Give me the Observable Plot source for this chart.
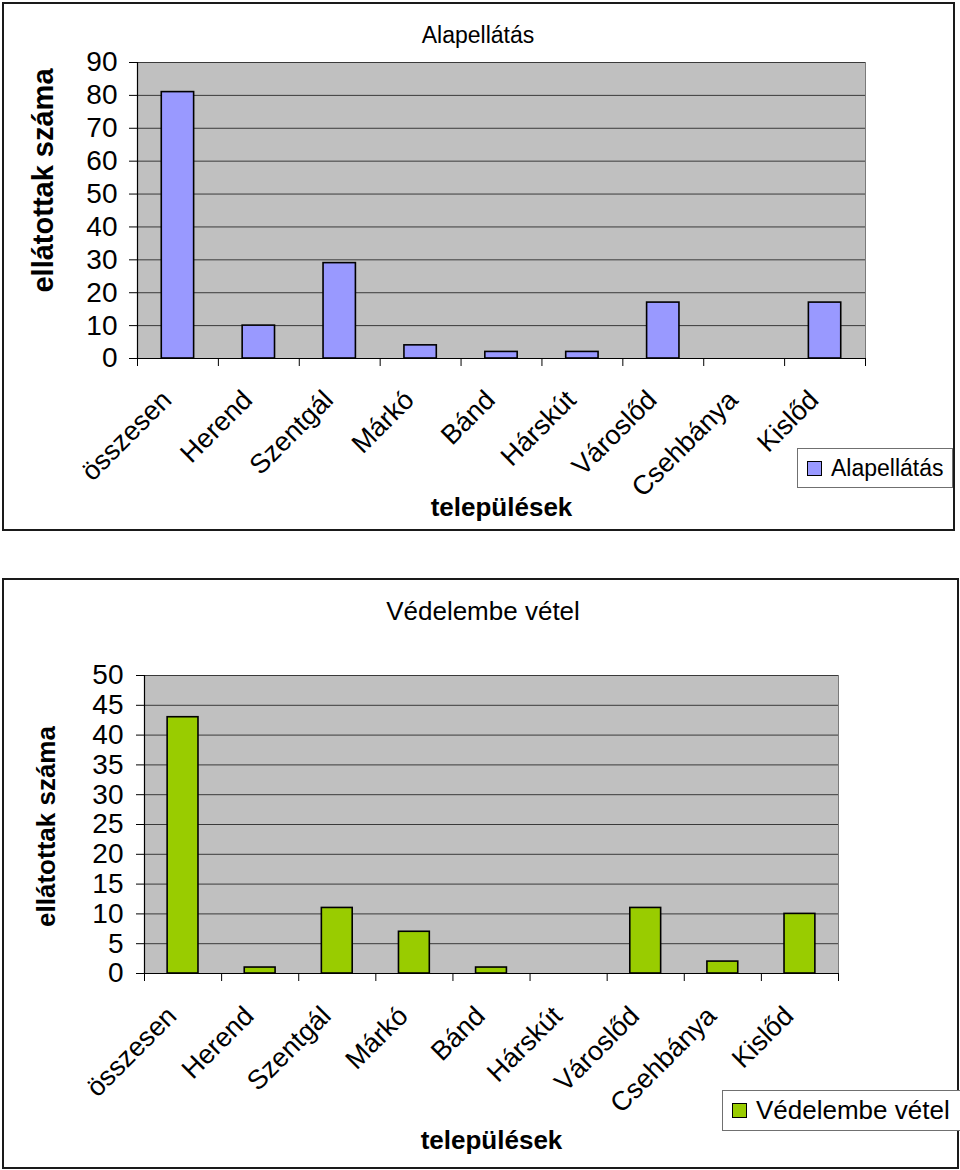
<!DOCTYPE html>
<html>
<head>
<meta charset="utf-8">
<script src="https://cdn.jsdelivr.net/npm/d3@7"></script>
<script src="https://cdn.jsdelivr.net/npm/@observablehq/plot@0.6"></script>
<style>
  body { margin: 0; background: #fff; font-family: "Liberation Sans", Arial, sans-serif; }
  #page { position: relative; width: 960px; height: 1170px; overflow: hidden; }
  .box { position: absolute; border: 2px solid #1a1a1a; box-sizing: border-box; }
  .title { position: absolute; transform: translate(-50%, -50%); white-space: nowrap; color: #000; }
  .legend { position: absolute; border: 1px solid #707070; box-sizing: border-box; background: #fff; display: flex; align-items: center; white-space: nowrap; }
  .swatch { width: 13px; height: 13px; border: 1.5px solid #000; margin-right: 9px; flex: none; }
</style>
</head>
<body>
<div id="page"></div>
<script>
// ---- data ----
const categories = ["összesen", "Herend", "Szentgál", "Márkó", "Bánd", "Hárskút", "Városlőd", "Csehbánya", "Kislőd"];
const alapellatas = [81, 10, 29, 4, 2, 2, 17, 0, 17];
const vedelembeVetel = [43, 1, 11, 7, 1, 0, 11, 2, 10];
const ticksTop = [0, 10, 20, 30, 40, 50, 60, 70, 80, 90];
const ticksBottom = [0, 5, 10, 15, 20, 25, 30, 35, 40, 45, 50];
const titleTop = "Alapellátás";
const titleBottom = "Védelembe vétel";
const yLabel = "ellátottak száma";
const xLabel = "települések";

const FONT = '"Liberation Sans", Arial, sans-serif';
const page = document.getElementById("page");

function chart(cfg) {
  const data = categories.map((c, i) => ({cat: c, v: cfg.values[i]}));
  const plotW = cfg.width - cfg.marginLeft - cfg.marginRight;
  const plotH = cfg.height - cfg.marginTop - cfg.marginBottom;
  const step = plotW / categories.length;
  const last = categories[categories.length - 1];
  const svg = Plot.plot({
    width: cfg.width,
    height: cfg.height,
    marginLeft: cfg.marginLeft,
    marginRight: cfg.marginRight,
    marginTop: cfg.marginTop,
    marginBottom: cfg.marginBottom,
    style: {fontFamily: FONT, background: "transparent", overflow: "visible"},
    x: {domain: categories, paddingInner: 0.6, paddingOuter: 0.3, round: false, axis: null},
    y: {domain: [0, cfg.max], axis: null},
    marks: [
      Plot.frame({fill: "#c0c0c0", stroke: "#7a7a7a"}),
      Plot.gridY(cfg.ticks, {stroke: "#3a3a3a", strokeOpacity: 1, strokeWidth: 1}),
      Plot.barY(data.filter(d => d.v > 0), {x: "cat", y: "v", fill: cfg.color, stroke: "#000", strokeWidth: 1.6}),
      Plot.ruleY([0], {stroke: "#000", strokeWidth: 1.2}),
      // left value axis line
      Plot.ruleX([categories[0]], {x: d => d, dx: -step / 2, stroke: "#000", strokeWidth: 1.2}),
      Plot.axisY({ticks: cfg.ticks, tickSize: 8, tickPadding: cfg.tickPadding, fontSize: cfg.tickFont, label: null, stroke: "#000", color: "#000"}),
      // category boundary ticks
      Plot.ruleX(categories, {x: d => d, dx: -step / 2, insetTop: plotH, insetBottom: -8, stroke: "#000"}),
      Plot.ruleX([last], {x: d => d, dx: step / 2, insetTop: plotH, insetBottom: -8, stroke: "#000"}),
      Plot.text(categories, {x: d => d, frameAnchor: "bottom", rotate: -45, textAnchor: "end", lineAnchor: "middle", dx: cfg.labelDx, dy: cfg.labelDy, fontSize: cfg.xFont, fill: "#000"}),
      Plot.text([yLabel], {frameAnchor: "left", rotate: -90, textAnchor: "middle", lineAnchor: "middle", dx: cfg.yLabelDx, dy: cfg.yLabelDy, fontSize: cfg.yLabelFont, fontWeight: "bold", fill: "#000"}),
      Plot.text([xLabel], {frameAnchor: "bottom", textAnchor: "middle", lineAnchor: "middle", dy: cfg.xLabelDy, fontSize: cfg.xLabelFont, fontWeight: "bold", fill: "#000"})
    ]
  });
  svg.style.position = "absolute";
  svg.style.left = cfg.left + "px";
  svg.style.top = cfg.top + "px";
  return svg;
}

function addBox(l, t, w, h) {
  const b = document.createElement("div");
  b.className = "box";
  Object.assign(b.style, {left: l + "px", top: t + "px", width: w + "px", height: h + "px"});
  page.appendChild(b);
}
function addTitle(text, cx, cy, size) {
  const d = document.createElement("div");
  d.className = "title";
  d.textContent = text;
  Object.assign(d.style, {left: cx + "px", top: cy + "px", fontSize: size + "px"});
  page.appendChild(d);
}
function addLegend(text, color, l, t, w, h, size) {
  const d = document.createElement("div");
  d.className = "legend";
  Object.assign(d.style, {left: l + "px", top: t + "px", width: w + "px", height: h + "px", paddingLeft: "9px", fontSize: size + "px"});
  const s = document.createElement("div");
  s.className = "swatch";
  s.style.background = color;
  const tx = document.createElement("span");
  tx.textContent = text;
  d.appendChild(s); d.appendChild(tx);
  page.appendChild(d);
}

// ---- top chart ----
addBox(2, 2, 953, 529);
addTitle(titleTop, 478, 35, 23);
page.appendChild(chart({
  values: alapellatas, color: "#9999ff", max: 90, ticks: ticksTop,
  left: 3, top: 3, width: 952, height: 528,
  marginLeft: 134, marginRight: 90, marginTop: 59, marginBottom: 173,
  tickPadding: 12, tickFont: 28, xFont: 27, labelDx: -11, labelDy: 37,
  yLabelDx: -94, yLabelDy: -30, yLabelFont: 29, xLabelDy: 149, xLabelFont: 26
}));
addLegend(titleTop, "#9999ff", 797, 448, 156, 40, 23);

// ---- bottom chart ----
addBox(2, 578, 957, 591);
addTitle(titleBottom, 483, 611, 26);
page.appendChild(chart({
  values: vedelembeVetel, color: "#99cc00", max: 50, ticks: ticksBottom,
  left: 3, top: 578, width: 956, height: 592,
  marginLeft: 141, marginRight: 121, marginTop: 97, marginBottom: 197,
  tickPadding: 13, tickFont: 28, xFont: 27, labelDx: -11, labelDy: 38,
  yLabelDx: -98, yLabelDy: 2, yLabelFont: 26, xLabelDy: 167, xLabelFont: 26
}));
addLegend(titleBottom, "#99cc00", 722, 1090, 240, 41, 26);
</script>
</body>
</html>
